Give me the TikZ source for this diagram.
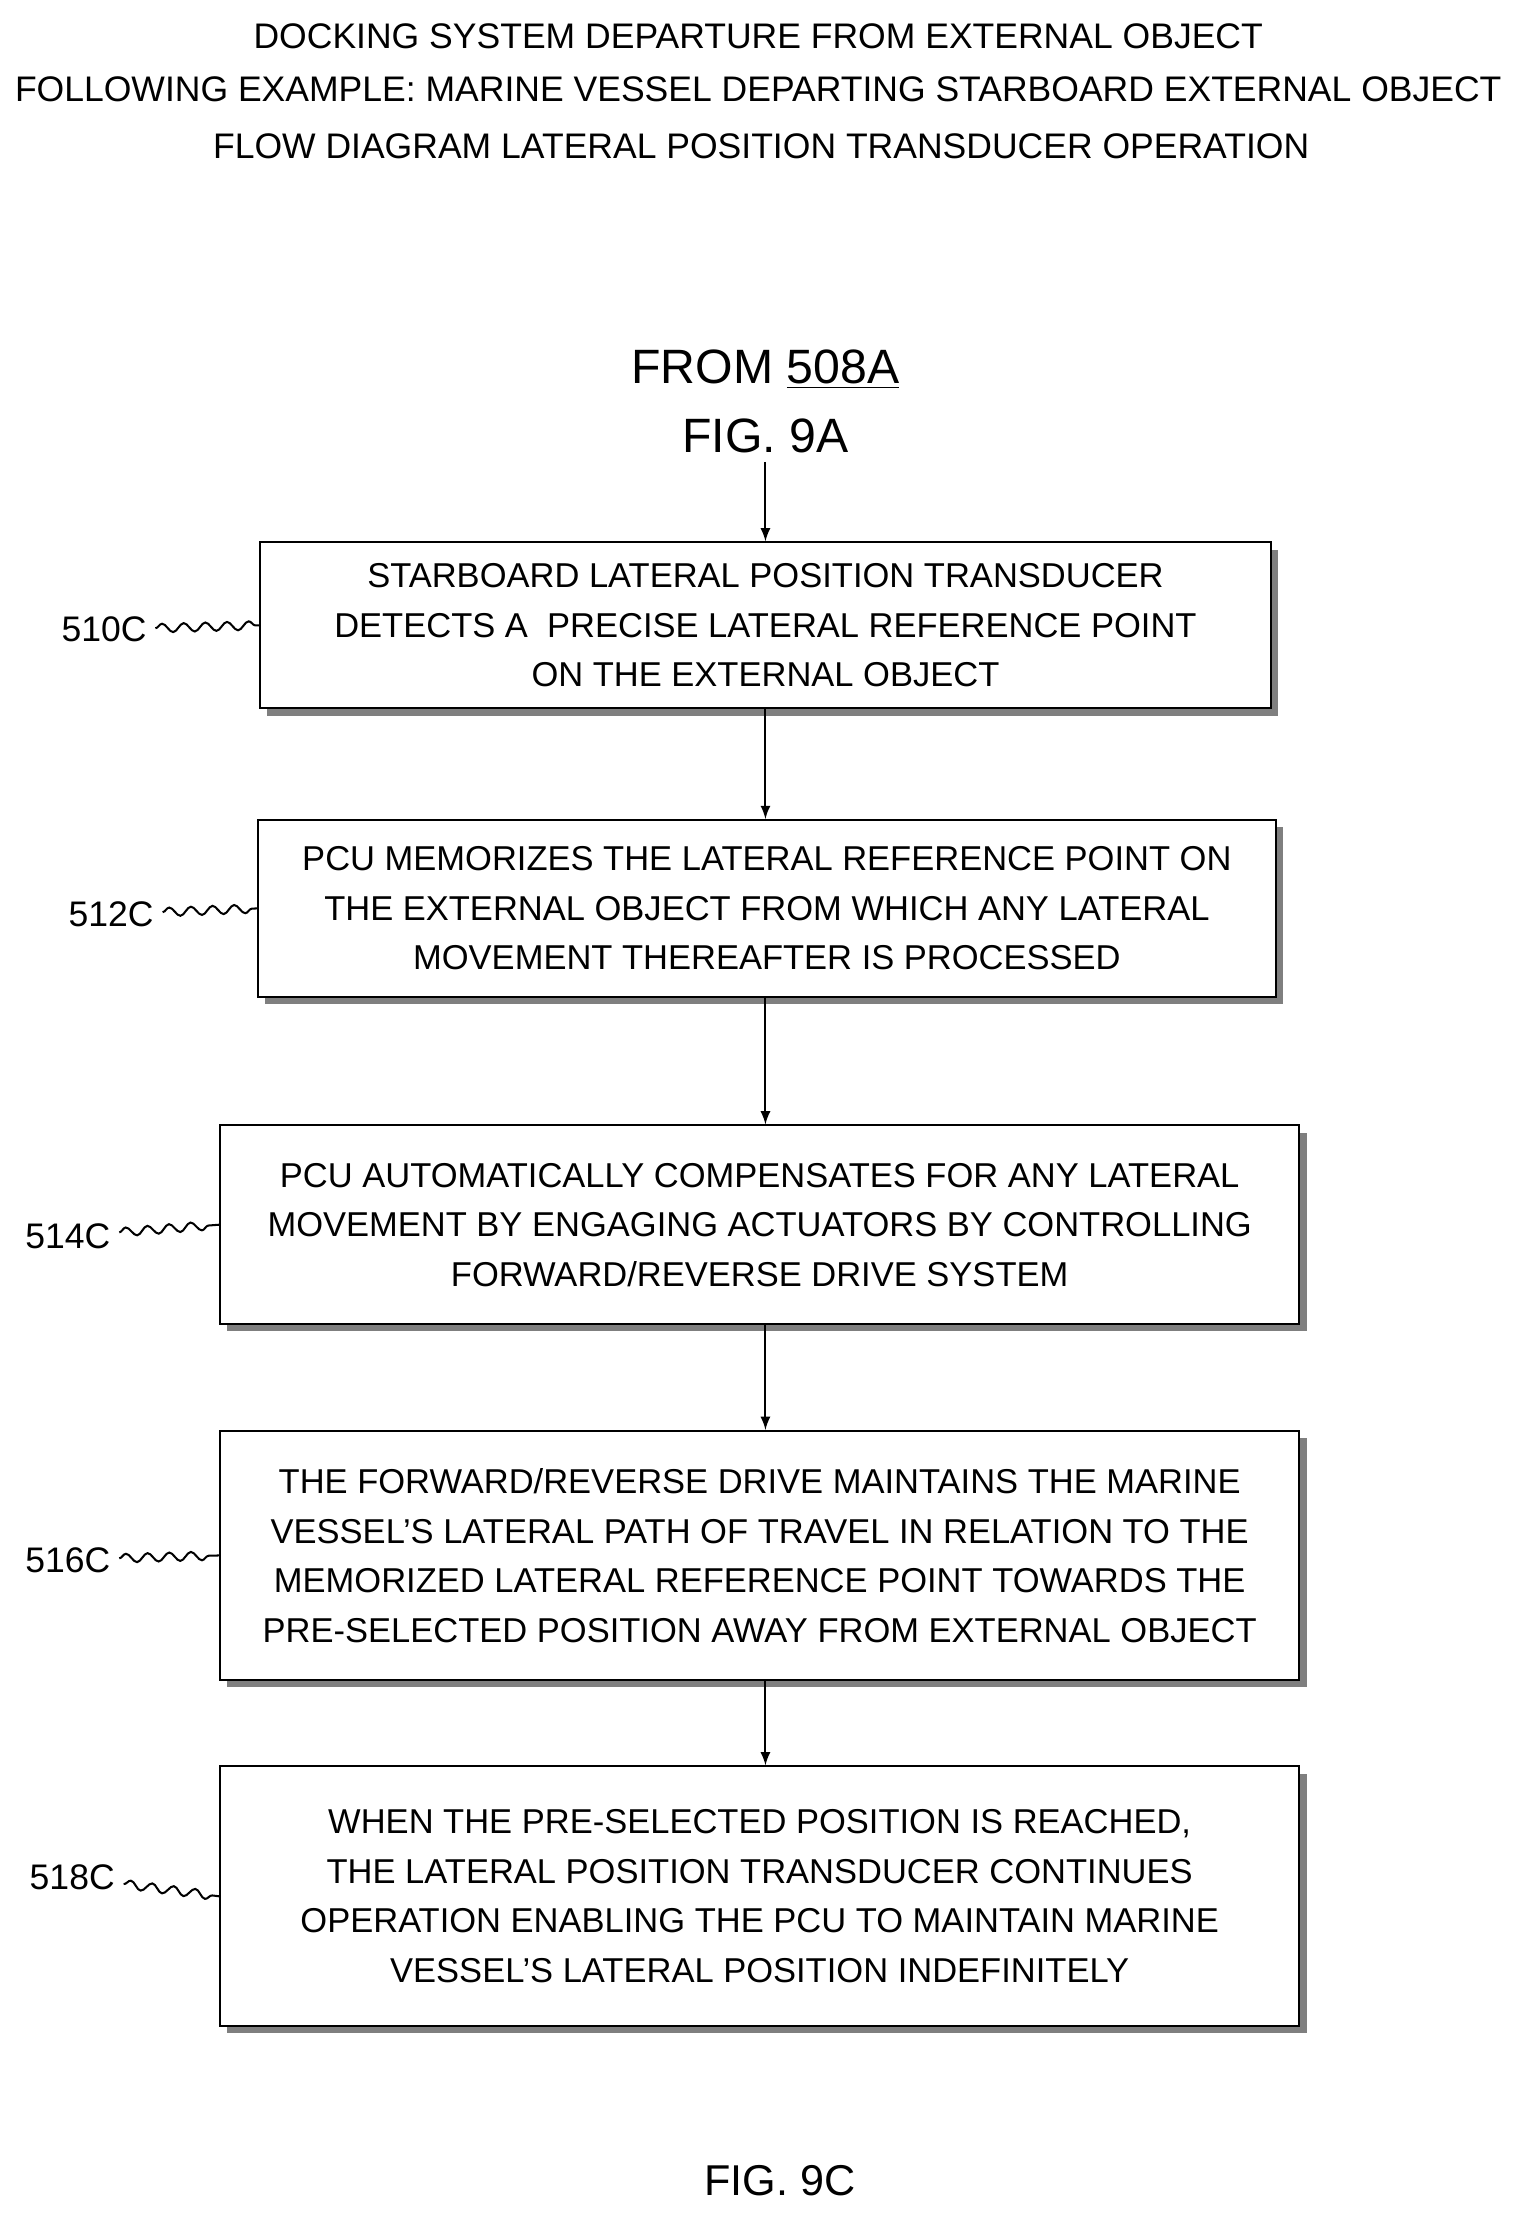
\documentclass[tikz,border=0pt]{standalone}
\usepackage{fontspec}
\setmainfont{Liberation Sans}
\usetikzlibrary{positioning}
\usetikzlibrary{shadows}
\usetikzlibrary{decorations.pathmorphing}
\begin{document}
\begin{tikzpicture}[x=0.02cm, y=-0.02cm]
  \tikzstyle{process}=[rectangle, draw = black, thick, fill = white, align = center, font = \fontsize{13.6}{19.5}\selectfont, drop shadow = {shadow xshift = 0.1cm, shadow yshift = -0.1cm, fill = black}]
  \tikzstyle{connect}=[-latex, thick]
  \tikzstyle{tag}=[font = \fontsize{14}{17}\selectfont]
  \tikzstyle{wave}=[thick, decorate, decoration = {snake, amplitude = 0.6mm, segment length = 3mm}]
  \tikzstyle{head}=[font = \fontsize{14}{17}\selectfont]

  \useasboundingbox (0,0) rectangle (1050,1551);

  \node[head] (t1) at (525,25) {DOCKING SYSTEM DEPARTURE FROM EXTERNAL OBJECT};
  \node[head] (t2) at (525,62) {FOLLOWING EXAMPLE: MARINE VESSEL DEPARTING STARBOARD EXTERNAL OBJECT};
  \node[head] (t3) at (527,101) {FLOW DIAGRAM LATERAL POSITION TRANSDUCER OPERATION};

  \node[font = \fontsize{19}{27}\selectfont, align = center] (from) at (530,278) {FROM \underline{508A}\\FIG. 9A};

  \node[process, minimum width = 14.0cm, minimum height = 2.3cm] (s510) at (530,433) {STARBOARD LATERAL POSITION TRANSDUCER\\DETECTS A\ \ PRECISE LATERAL REFERENCE POINT\\ON THE EXTERNAL OBJECT};
  \node[process, minimum width = 14.1cm, minimum height = 2.45cm] (s512) at (531,629) {PCU MEMORIZES THE LATERAL REFERENCE POINT ON\\THE EXTERNAL OBJECT FROM WHICH ANY LATERAL\\MOVEMENT THEREAFTER IS PROCESSED};
  \node[process, minimum width = 14.95cm, minimum height = 2.75cm] (s514) at (526,848) {PCU AUTOMATICALLY COMPENSATES FOR ANY LATERAL\\MOVEMENT BY ENGAGING ACTUATORS BY CONTROLLING\\FORWARD/REVERSE DRIVE SYSTEM};
  \node[process, minimum width = 14.95cm, minimum height = 3.45cm] (s516) at (526,1077) {THE FORWARD/REVERSE DRIVE MAINTAINS THE MARINE\\VESSEL'S LATERAL PATH OF TRAVEL IN RELATION TO THE\\MEMORIZED LATERAL REFERENCE POINT TOWARDS THE\\PRE-SELECTED POSITION AWAY FROM EXTERNAL OBJECT};
  \node[process, minimum width = 14.95cm, minimum height = 3.6cm] (s518) at (526,1313) {WHEN THE PRE-SELECTED POSITION IS REACHED,\\THE LATERAL POSITION TRANSDUCER CONTINUES\\OPERATION ENABLING THE PCU TO MAINTAIN MARINE\\VESSEL'S LATERAL POSITION INDEFINITELY};

  \node[tag] (l510) at (72,436) {510C};
  \node[tag] (l512) at (77,633) {512C};
  \node[tag] (l514) at (47,856) {514C};
  \node[tag] (l516) at (47,1080) {516C};
  \node[tag] (l518) at (50,1300) {518C};

  \draw[wave] (l510) -- (s510.west);
  \draw[wave] (l512) -- (s512.west);
  \draw[wave] (l514) -- (s514.west);
  \draw[wave] (l516) -- (s516.west);
  \draw[wave] (l518) -- (s518.west);

  \path (from.south -| from.center) edge [connect] (s510.north -| from.center)
        (s510.south -| from.center) edge [connect] (s512.north -| from.center)
        (s512.south -| from.center) edge [connect] (s514.north -| from.center)
        (s514.south -| from.center) edge [connect] (s516.north -| from.center)
        (s516.south -| from.center) edge [connect] (s518.north -| from.center);

  \node[font = \fontsize{17}{20}\selectfont] (fig) at (540,1510) {FIG. 9C};
\end{tikzpicture}
\end{document}
